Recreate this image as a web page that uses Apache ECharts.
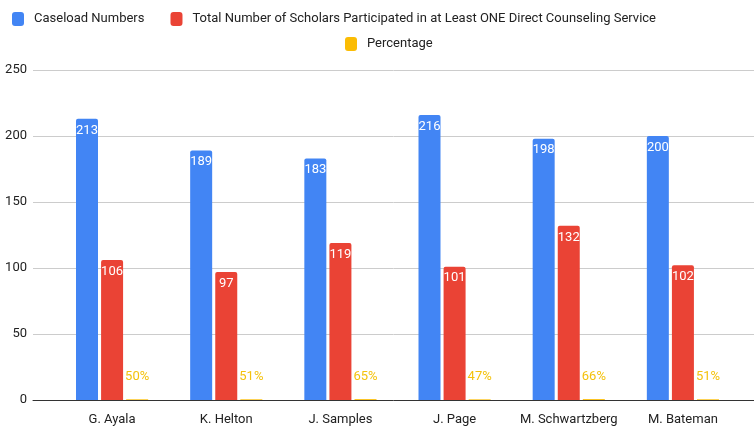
<!DOCTYPE html>
<html>
<head>
<meta charset="utf-8">
<script src="https://cdn.jsdelivr.net/npm/echarts@6/dist/echarts.min.js"></script>
<style>html,body{margin:0;padding:0;background:#fff;}#c{width:754px;height:426px;}</style>
</head>
<body>
<div id="c"></div>
<script>
const categories = ['G. Ayala', 'K. Helton', 'J. Samples', 'J. Page', 'M. Schwartzberg', 'M. Bateman'];
const seriesNames = ['Caseload Numbers', 'Total Number of Scholars Participated in at Least ONE Direct Counseling Service', 'Percentage'];
const caseload = [213, 189, 183, 216, 198, 200];
const participated = [106, 97, 119, 101, 132, 102];
const percentage = [0.50, 0.51, 0.65, 0.47, 0.66, 0.51];
const yMin = 0, yMax = 250, yStep = 50;

const chart = echarts.init(document.getElementById('c'), null, {renderer: 'canvas'});
const font = 'Roboto, Arial, sans-serif';
const colors = ['#4285F4', '#EA4335', '#FBBC04'];
const fs = 13;

const option = {
  animation: false,
  color: colors,
  textStyle: {fontFamily: font},
  legend: [
    {data: [seriesNames[0], seriesNames[1]], left: 12, top: 12, padding: 0, icon: 'roundRect',
     itemWidth: 12, itemHeight: 14, itemGap: 26,
     textStyle: {fontSize: fs, color: '#222', fontFamily: font, padding: [0, 0, 0, 5]}},
    {data: [seriesNames[2]], left: 345, top: 37, padding: 0, icon: 'roundRect',
     itemWidth: 12, itemHeight: 14,
     textStyle: {fontSize: fs, color: '#222', fontFamily: font, padding: [0, 0, 0, 5]}}
  ],
  grid: [
    {left: 33, right: 0, top: 70, bottom: 26},
    {left: 55, right: 14, top: 70, bottom: 26}
  ],
  xAxis: [
    {gridIndex: 0, type: 'value', min: 0, max: 1, axisLabel: {show: false}, axisTick: {show: false},
     splitLine: {show: false}, axisLine: {show: true, lineStyle: {color: '#333', width: 1}}},
    {gridIndex: 1, type: 'category', data: categories, axisLine: {show: false}, axisTick: {show: false},
     axisLabel: {fontSize: fs, color: '#222', margin: 13, fontFamily: font, interval: 0}}
  ],
  yAxis: [
    {gridIndex: 0, type: 'value', min: yMin, max: yMax, interval: yStep,
     axisLine: {show: false}, axisTick: {show: false},
     axisLabel: {fontSize: fs, color: '#222', margin: 6, fontFamily: font},
     splitLine: {lineStyle: {color: '#cccccc', width: 1}}},
    {gridIndex: 1, type: 'value', min: yMin, max: yMax, interval: yStep, show: false}
  ],
  series: [
    {name: seriesNames[0], type: 'bar', xAxisIndex: 1, yAxisIndex: 1, data: caseload,
     barWidth: 22, barGap: '14%', itemStyle: {borderRadius: [2, 2, 0, 0]},
     label: {show: true, position: 'insideTop', distance: 5, color: '#fff', fontSize: fs, fontFamily: font}},
    {name: seriesNames[1], type: 'bar', xAxisIndex: 1, yAxisIndex: 1, data: participated,
     barWidth: 22, barGap: '14%', itemStyle: {borderRadius: [2, 2, 0, 0]},
     label: {show: true, position: 'insideTop', distance: 5, color: '#fff', fontSize: fs, fontFamily: font}},
    {name: seriesNames[2], type: 'bar', xAxisIndex: 1, yAxisIndex: 1, data: percentage,
     barWidth: 22, barGap: '14%',
     label: {show: true, position: 'top', distance: 16, color: '#F4C20D', fontSize: fs, fontFamily: font,
       formatter: p => Math.round(p.value * 100) + '%'}}
  ]
};
chart.setOption(option);
</script>
</body>
</html>
